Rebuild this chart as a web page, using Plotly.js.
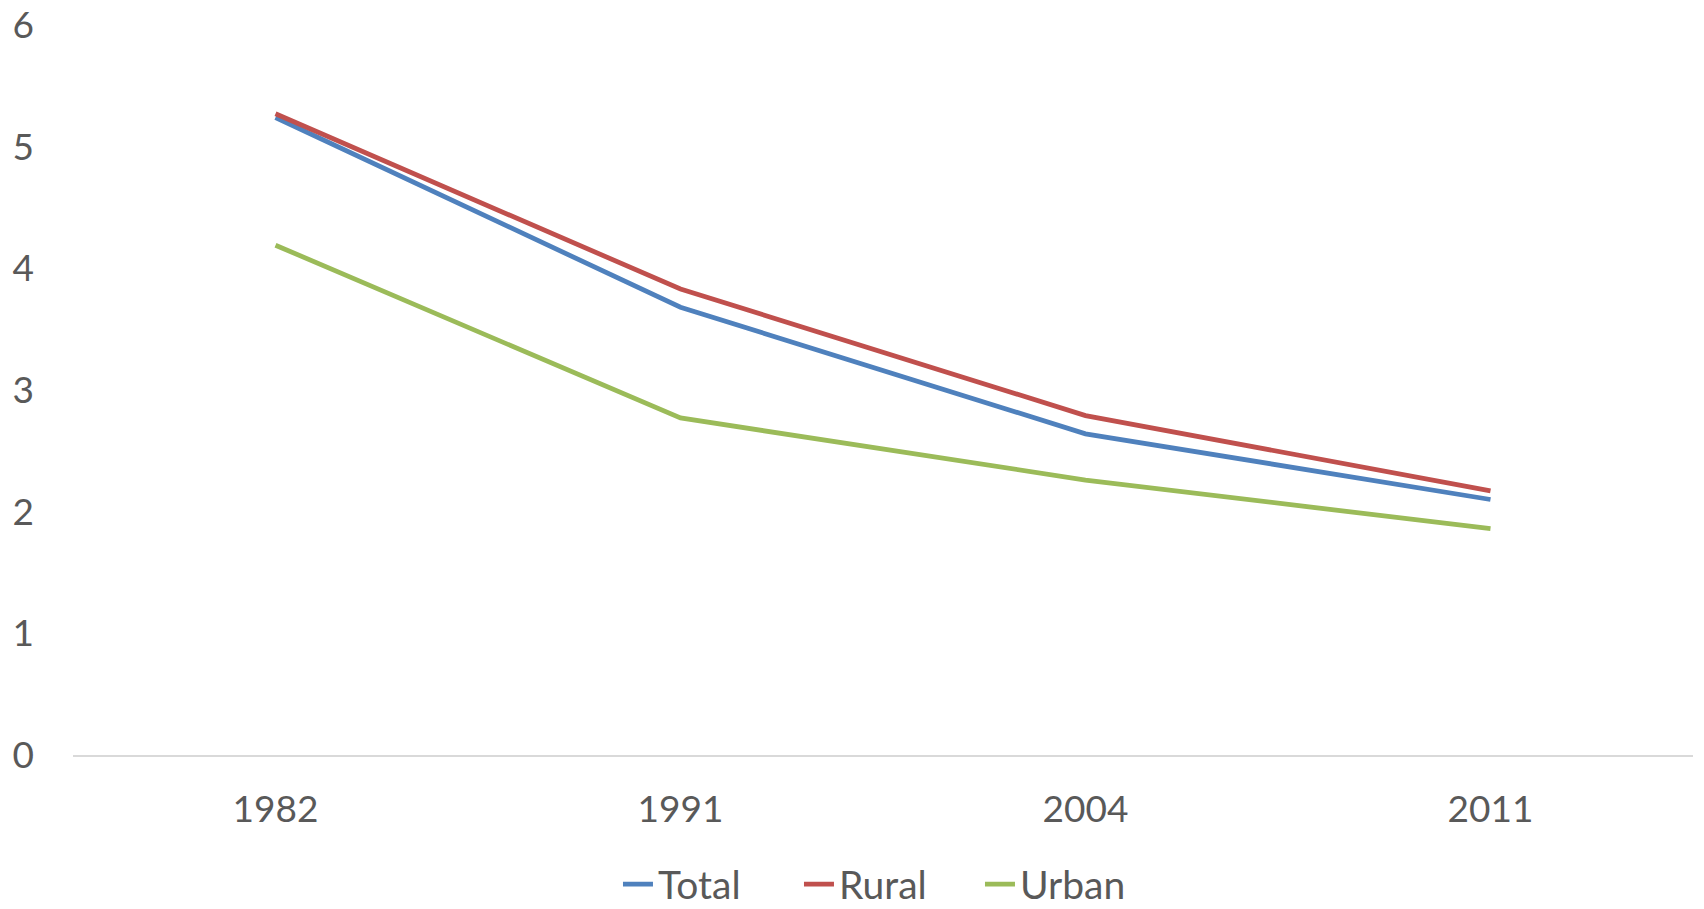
<!DOCTYPE html>
<html>
<head>
<meta charset="utf-8">
<script src="https://cdn.plot.ly/plotly-3.0.1.min.js"></script>
<style>
  html, body { margin: 0; padding: 0; background: #ffffff; }
  #chart { width: 1704px; height: 909px; }
</style>
</head>
<body>
<div id="chart"></div>
<script>
const years = ["1982", "1991", "2004", "2011"];
const totalValues = [5.24, 3.68, 2.64, 2.10];
const ruralValues = [5.27, 3.83, 2.79, 2.17];
const urbanValues = [4.19, 2.77, 2.26, 1.86];
const yTicks = [0, 1, 2, 3, 4, 5, 6];

const fontFamily = "Lato, 'Open Sans', 'Noto Sans', sans-serif";
const textColor = "#595959";

function lineTrace(name, values, color) {
  return {
    type: "scatter",
    mode: "lines",
    name: name,
    x: years,
    y: values,
    line: { color: color, width: 4.8, shape: "linear" },
    hoverinfo: "x+y+name"
  };
}

const data = [
  lineTrace("Total", totalValues, "#4f81bd"),
  lineTrace("Rural", ruralValues, "#c0504d"),
  lineTrace("Urban", urbanValues, "#9bbb59")
];

const layout = {
  width: 1704,
  height: 909,
  paper_bgcolor: "#ffffff",
  plot_bgcolor: "#ffffff",
  margin: { l: 73, r: 11, t: 25, b: 154, autoexpand: false },
  font: { family: fontFamily, color: textColor, size: 37 },
  showlegend: true,
  legend: {
    orientation: "h",
    x: 0.504,
    xanchor: "center",
    y: -0.177,
    yanchor: "middle",
    font: { family: fontFamily, size: 39, color: textColor },
    entrywidth: 136,
    entrywidthmode: "pixels",
    tracegroupgap: 0,
    bgcolor: "rgba(0,0,0,0)"
  },
  xaxis: {
    type: "category",
    categoryorder: "array",
    categoryarray: years,
    range: [-0.5, 3.5],
    showgrid: false,
    zeroline: false,
    showline: true,
    linecolor: "#d9d9d9",
    linewidth: 2,
    ticks: "",
    ticklabelstandoff: 21,
    tickfont: { family: fontFamily, size: 37, color: textColor },
    fixedrange: true
  },
  yaxis: {
    range: [0, 6],
    tickvals: yTicks,
    ticktext: yTicks.map(String),
    showgrid: false,
    zeroline: false,
    showline: false,
    ticks: "",
    ticklabelstandoff: 38,
    tickfont: { family: fontFamily, size: 37, color: textColor },
    fixedrange: true
  }
};

Plotly.newPlot("chart", data, layout, { displayModeBar: false, staticPlot: true });
</script>
</body>
</html>
